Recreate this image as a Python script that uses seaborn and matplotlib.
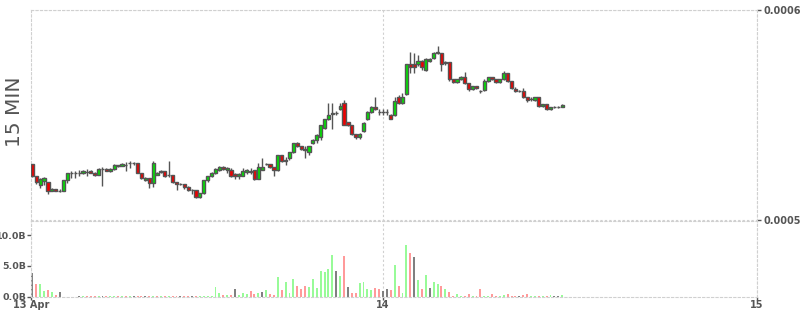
import numpy as np
import pandas as pd
import matplotlib
matplotlib.use("Agg")
import matplotlib.pyplot as plt
import seaborn as sns

# ---------------- data ----------------
start_time = "2024-04-13 01:30"      # first 15-minute bar
bar_freq = "15min"

# prices in units of 1e-7
open_e7 = [5267, 5210, 5167, 5186, 5181, 5138, 5148, 5138, 5138, 5190,
           5224, 5224, 5224, 5224, 5229, 5233, 5224, 5214, 5243, 5243,
           5233, 5243, 5262, 5257, 5262, 5271, 5271, 5271, 5224, 5190,
           5200, 5176, 5214, 5229, 5233, 5214, 5214, 5181, 5171, 5171,
           5157, 5143, 5143, 5110, 5129, 5190, 5210, 5224, 5238, 5252,
           5238, 5238, 5219, 5210, 5210, 5229, 5233, 5238, 5195, 5238,
           5267, 5267, 5252, 5238, 5310, 5281, 5295, 5324, 5367, 5352,
           5338, 5324, 5367, 5381, 5395, 5438, 5481, 5505, 5510, 5529,
           5557, 5467, 5452, 5410, 5395, 5424, 5481, 5514, 5538, 5514,
           5514, 5514, 5500, 5500, 5586, 5557, 5600, 5743, 5743, 5743,
           5757, 5714, 5757, 5771, 5795, 5795, 5752, 5752, 5671, 5657,
           5671, 5681, 5652, 5624, 5638, 5614, 5619, 5662, 5681, 5671,
           5657, 5671, 5700, 5662, 5624, 5614, 5614, 5586, 5576, 5571,
           5586, 5543, 5552, 5529, 5538, 5538, 5538]
high_e7 = [5267, 5210, 5200, 5205, 5181, 5152, 5148, 5148, 5190, 5224,
           5233, 5233, 5238, 5238, 5243, 5238, 5229, 5248, 5252, 5248,
           5248, 5267, 5262, 5271, 5276, 5281, 5276, 5271, 5224, 5205,
           5200, 5281, 5229, 5238, 5233, 5281, 5214, 5181, 5176, 5171,
           5162, 5148, 5143, 5129, 5190, 5210, 5229, 5248, 5257, 5257,
           5252, 5248, 5224, 5224, 5248, 5243, 5248, 5238, 5271, 5295,
           5271, 5267, 5252, 5310, 5310, 5300, 5324, 5367, 5371, 5352,
           5352, 5352, 5386, 5410, 5452, 5481, 5557, 5557, 5519, 5557,
           5571, 5467, 5452, 5410, 5414, 5467, 5519, 5543, 5586, 5529,
           5529, 5529, 5505, 5586, 5595, 5605, 5743, 5800, 5795, 5786,
           5762, 5771, 5771, 5800, 5829, 5795, 5757, 5752, 5671, 5671,
           5686, 5705, 5652, 5638, 5638, 5619, 5671, 5681, 5681, 5671,
           5671, 5710, 5700, 5662, 5633, 5619, 5629, 5586, 5586, 5586,
           5586, 5552, 5552, 5538, 5543, 5543, 5552]
low_e7 = [5205, 5171, 5152, 5167, 5124, 5138, 5138, 5133, 5138, 5176,
          5200, 5200, 5210, 5219, 5210, 5224, 5210, 5214, 5162, 5233,
          5229, 5238, 5252, 5257, 5233, 5248, 5262, 5224, 5195, 5186,
          5152, 5157, 5214, 5224, 5205, 5205, 5176, 5143, 5167, 5148,
          5138, 5124, 5105, 5105, 5124, 5181, 5205, 5219, 5233, 5238,
          5224, 5205, 5195, 5195, 5210, 5219, 5219, 5190, 5195, 5238,
          5262, 5248, 5210, 5233, 5276, 5262, 5286, 5319, 5348, 5333,
          5295, 5310, 5362, 5367, 5381, 5433, 5476, 5433, 5500, 5524,
          5452, 5448, 5405, 5386, 5386, 5419, 5476, 5510, 5524, 5500,
          5500, 5500, 5481, 5495, 5552, 5552, 5595, 5700, 5700, 5733,
          5714, 5710, 5752, 5767, 5791, 5710, 5738, 5662, 5652, 5652,
          5667, 5648, 5614, 5619, 5624, 5605, 5614, 5657, 5667, 5652,
          5652, 5667, 5657, 5624, 5610, 5610, 5581, 5562, 5567, 5567,
          5538, 5538, 5524, 5524, 5533, 5533, 5538]
close_e7 = [5210, 5181, 5195, 5200, 5138, 5148, 5138, 5138, 5190, 5224,
            5224, 5224, 5224, 5233, 5229, 5224, 5214, 5243, 5243, 5233,
            5243, 5262, 5257, 5267, 5262, 5271, 5271, 5224, 5200, 5200,
            5176, 5271, 5224, 5233, 5210, 5214, 5181, 5171, 5171, 5157,
            5143, 5143, 5110, 5129, 5190, 5210, 5224, 5243, 5252, 5243,
            5248, 5210, 5210, 5219, 5233, 5238, 5229, 5195, 5252, 5252,
            5267, 5252, 5238, 5310, 5281, 5286, 5324, 5367, 5352, 5338,
            5333, 5352, 5381, 5405, 5452, 5481, 5500, 5510, 5510, 5543,
            5452, 5452, 5410, 5395, 5410, 5462, 5514, 5538, 5529, 5514,
            5514, 5514, 5481, 5567, 5557, 5586, 5743, 5729, 5729, 5757,
            5729, 5767, 5767, 5795, 5800, 5743, 5748, 5671, 5657, 5671,
            5681, 5652, 5624, 5638, 5629, 5614, 5662, 5681, 5671, 5657,
            5671, 5700, 5662, 5629, 5614, 5614, 5586, 5571, 5576, 5586,
            5543, 5552, 5529, 5538, 5538, 5538, 5548]
# volume in billions
volume_b = [3.8, 2.1, 2.1, 0.9, 1.0, 0.8, 0.3, 0.8, 0.0, 0.0,
            0.0, 0.0, 0.08, 0.06, 0.08, 0.1, 0.06, 0.08, 0.06, 0.08,
            0.1, 0.06, 0.08, 0.06, 0.08, 0.1, 0.08, 0.06, 0.08, 0.06,
            0.1, 0.08, 0.06, 0.08, 0.06, 0.08, 0.1, 0.06, 0.08, 0.06,
            0.08, 0.1, 0.06, 0.08, 0.06, 0.08, 0.08, 1.5, 0.6, 0.3,
            0.3, 0.2, 1.3, 0.2, 0.5, 0.45, 0.9, 0.35, 0.5, 0.7,
            1.0, 0.35, 0.3, 3.2, 1.1, 2.3, 0.5, 2.9, 1.7, 1.2,
            1.7, 1.6, 2.9, 1.4, 4.2, 4.0, 4.5, 6.8, 4.2, 3.4,
            6.6, 1.6, 0.6, 0.6, 2.2, 2.4, 1.2, 1.1, 1.4, 1.2,
            0.9, 1.2, 1.1, 5.2, 1.7, 0.6, 8.4, 7.1, 6.4, 2.7,
            1.2, 3.5, 1.4, 2.4, 2.0, 1.7, 1.2, 0.75, 0.05, 0.4,
            0.1, 0.1, 0.4, 0.05, 0.1, 1.2, 0.05, 0.1, 0.4, 0.1,
            0.1, 0.2, 0.4, 0.1, 0.05, 0.05, 0.3, 0.4, 0.1, 0.15,
            0.1, 0.1, 0.1, 0.2, 0.05, 0.1, 0.2]

price_ticks = [0.0005, 0.0006]
volume_ticks = [0, 5, 10]
day_ticks = ["2024-04-14", "2024-04-15"]
day_labels = ["14", "15"]
first_label = "13 Apr"
panel_title = "15 MIN"

# ---------------- styling ----------------
sns.set_theme(style="white")
plt.rcParams["font.family"] = ["DejaVu Sans"]

EDGE = "#555555"
GRID = "#d0d0d0"
TXT = "#555555"
UP_BODY, DOWN_BODY = "#00e600", "#ee0000"
vol_palette = {"up": "#98fb98", "down": "#ff9a9a", "flat": "#808080"}

times = pd.date_range(start_time, periods=len(open_e7), freq=bar_freq)
day0 = times[0].normalize()
hours = ((times - day0) / pd.Timedelta(hours=1)).to_numpy()
bar_h = 0.25

o = np.array(open_e7) * 1e-7
h = np.array(high_e7) * 1e-7
l = np.array(low_e7) * 1e-7
c = np.array(close_e7) * 1e-7
vol = np.array(volume_b)

prev_close = np.concatenate([[np.nan], c[:-1]])
vol_dir = np.where(np.isnan(prev_close), "flat",
                   np.where(np.isclose(c, prev_close), "flat",
                            np.where(c > prev_close, "up", "down")))

df = pd.DataFrame({"hours": hours, "volume": vol, "dir": vol_dir})

fig = plt.figure(figsize=(8, 3.15), dpi=100)
W, H = 800, 315
left_px, right_px = 31, 757
ax = fig.add_axes([left_px / W, (H - 221) / H, (right_px - left_px) / W, 211 / H])
axv = fig.add_axes([left_px / W, (H - 296.5) / H, (right_px - left_px) / W, 75.5 / H])

# candles
ax.vlines(hours, l, h, color=EDGE, linewidth=1, zorder=2)
ax.bar(hours, np.abs(c - o), bottom=np.minimum(o, c), width=bar_h * 0.82,
       color=np.where(c >= o, UP_BODY, DOWN_BODY), edgecolor=EDGE,
       linewidth=1, zorder=3)

# volume
sns.barplot(data=df, x="hours", y="volume", hue="dir", palette=vol_palette,
            native_scale=True, dodge=False, width=0.5, saturation=1,
            errorbar=None, legend=False, linewidth=0, ax=axv)

x_left = 24 - (383 - left_px) / ((right_px - 383) / 24)
x_right = 48
day_pos = [((pd.Timestamp(d) - day0) / pd.Timedelta(hours=1)) for d in day_ticks]

for a in (ax, axv):
    a.set_xlim(x_left, x_right)
    for s in a.spines.values():
        s.set_visible(True)
        s.set_color(GRID)
        s.set_linestyle((0, (2, 2)))
        s.set_linewidth(0.8)
    a.set_xlabel("")
    a.set_ylabel("")

ax.set_ylim(0.0005 - 0.48e-6, 0.0006)
ax.set_xticks(day_pos)
ax.tick_params(axis="x", length=0, labelbottom=False)
ax.yaxis.tick_right()
ax.set_yticks(price_ticks)
ax.set_yticklabels([f"{t:.4f}" for t in price_ticks])
ax.tick_params(axis="y", right=True, length=3, width=1, color=EDGE,
               labelsize=7, labelcolor=TXT, pad=1.5)
ax.grid(True, color=GRID, linestyle=(0, (2, 2)), linewidth=0.8)
for t in ax.get_yticklabels():
    t.set_fontweight("bold")

axv.set_ylim(0, 12.28)
axv.set_yticks(volume_ticks)
axv.set_yticklabels([f"{t:.1f}B" for t in volume_ticks])
axv.yaxis.tick_left()
axv.tick_params(axis="y", left=True, length=3, width=1, color=EDGE,
                labelsize=6.8, labelcolor=TXT, pad=0.6)
axv.set_xticks([x_left] + day_pos)
axv.set_xticklabels([first_label] + day_labels)
axv.tick_params(axis="x", bottom=True, length=2, width=1, color=EDGE,
                labelsize=7, labelcolor=TXT, pad=0.8)
axv.grid(True, axis="x", color=GRID, linestyle=(0, (2, 2)), linewidth=0.8)
axv.grid(False, axis="y")
for t in axv.get_yticklabels() + axv.get_xticklabels():
    t.set_fontweight("bold")
ax.set_axisbelow(True)
axv.set_axisbelow(True)

fig.text(15 / W, 1 - 112 / H, panel_title, rotation=90, fontsize=14.5,
         color=TXT, ha="center", va="center")

fig.savefig("out.png", dpi=100)
